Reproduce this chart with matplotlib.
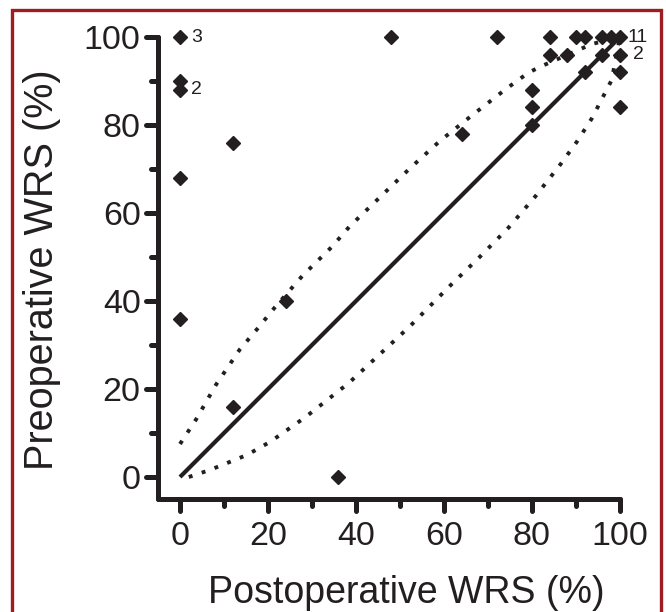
import matplotlib
matplotlib.use('Agg')
import matplotlib.pyplot as plt
import matplotlib.lines as mlines
from matplotlib.markers import MarkerStyle
from matplotlib.ticker import MultipleLocator

plt.rcParams['font.family'] = ['Liberation Sans', 'DejaVu Sans']

# Data: (postoperative WRS, preoperative WRS)
postop = [0, 0, 0, 0, 0, 12, 12, 24, 36, 48, 72, 64,
          84, 90, 92, 96, 98, 100,
          84, 88, 96, 100,
          92, 100,
          80, 80, 80, 100]
preop = [100, 90, 88, 68, 36, 76, 16, 40, 0, 100, 100, 78,
         100, 100, 100, 100, 100, 100,
         96, 96, 96, 96,
         92, 92,
         88, 84, 80, 84]

# counts of overlapping patients
count_x = [0, 0, 100, 100]
count_y = [100, 88, 100, 96]
count_labels = ['3', '2', '11', '2']

# identity line
ident_x = [0, 100]
ident_y = [0, 100]

# upper dotted bound
upper_x = [0, 3.6, 8.2, 13.6, 17.6, 21.6, 27.8, 34.5, 38.5, 52.3, 59.1, 66.5, 74.1, 79.2, 82.0, 93.6, 100]
upper_y = [7.5, 13, 21, 29, 33.7, 38.6, 45.7, 52.3, 56.9, 70.2, 76.4, 82.3, 88.2, 91.9, 93.3, 98.4, 100]

# lower dotted bound
lower_x = [2, 6.8, 15.2, 20.5, 28.5, 38.4, 52.3, 61.2, 68, 74.6, 80.7, 86.5, 90.2, 93.6, 98.1, 100]
lower_y = [0, 1.6, 5, 8, 13.6, 21.4, 34.3, 43.3, 49.9, 56.6, 63.7, 71.1, 76.2, 81.5, 90.2, 100]

ink = '#231f20'
W, H = 666, 612
fig = plt.figure(figsize=(W / 100, H / 100), dpi=100)
ax = fig.add_axes([158 / W, 113 / H, 462 / W, 462 / H])
ax.set_xlim(-5, 100)
ax.set_ylim(-5, 100)

ax.plot(ident_x, ident_y, color=ink, lw=3.0, solid_capstyle='butt', zorder=2)
ax.plot(upper_x, upper_y, color=ink, lw=2.8, linestyle=(0, (1, 2.5)), dash_capstyle='butt', zorder=2)
ax.plot(lower_x, lower_y, color=ink, lw=2.8, linestyle=(0, (1, 2.5)), dash_capstyle='butt', zorder=2)
ax.plot(postop, preop, linestyle='none', marker='D', ms=7.0, color=ink, mec=ink, clip_on=False, zorder=3)

offs = [2.6, 2.6, 101.6, 103.0]
for x, y, t, o in zip(count_x, count_y, count_labels, offs):
    ax.text(o, y, t, fontsize=14, ha='left', va='center', color=ink, clip_on=False)

for s in ['top', 'right']:
    ax.spines[s].set_visible(False)
for s in ['left', 'bottom']:
    ax.spines[s].set_linewidth(3.6)
    ax.spines[s].set_color(ink)
    ax.spines[s].set_capstyle('round')
ax.spines['left'].set_bounds(-5, 100)
ax.spines['bottom'].set_bounds(-5, 100)

ax.set_xticks([0, 20, 40, 60, 80, 100])
ax.set_yticks([0, 20, 40, 60, 80, 100])
ax.set_xticks([10, 30, 50, 70, 90], minor=True)
ax.set_yticks([10, 30, 50, 70, 90], minor=True)
ax.tick_params(which='major', direction='out', length=8.5, width=3.6, color=ink,
               labelsize=24.5, labelcolor=ink)
ax.tick_params(axis='x', which='major', pad=7)
ax.tick_params(axis='y', which='major', pad=4)
ax.tick_params(which='minor', direction='out', length=5, width=3.6, color=ink)

for tk in ax.xaxis.get_major_ticks() + ax.xaxis.get_minor_ticks():
    tk.tick1line.set_marker(MarkerStyle(mlines.TICKDOWN, capstyle='round'))
for tk in ax.yaxis.get_major_ticks() + ax.yaxis.get_minor_ticks():
    tk.tick1line.set_marker(MarkerStyle(mlines.TICKLEFT, capstyle='round'))

ax.set_xlabel('Postoperative WRS (%)', fontsize=27, color=ink)
ax.set_ylabel('Preoperative WRS (%)', fontsize=28.5, color=ink)
ax.xaxis.label.set_va('baseline')
ax.xaxis.set_label_coords((406 - 158) / 462, (499 - 603) / 462)
ax.yaxis.label.set_va('baseline')
ax.yaxis.set_label_coords((53 - 158) / 462, (499 - 270) / 462)

# frame border
red = '#9e1c22'
bx0, bx1, by1 = 11.5 / W, 661 / W, 1 - 10 / H
fig.add_artist(mlines.Line2D([bx0, bx0, bx1, bx1], [0, by1, by1, 0],
                             transform=fig.transFigure, color=red, lw=2.4,
                             solid_joinstyle='miter'))

fig.savefig('out.png', dpi=100)
